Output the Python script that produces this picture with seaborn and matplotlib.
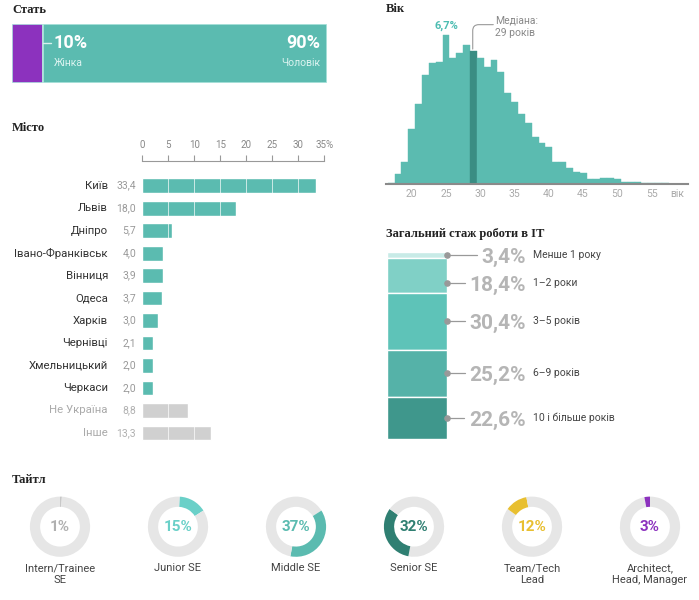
import numpy as np
import matplotlib
matplotlib.use('Agg')
import matplotlib.pyplot as plt
import seaborn as sns

# дані
gender_labels = ['Жінка', 'Чоловік']
gender_pct = [10, 90]

cities = ['Київ', 'Львів', 'Дніпро', 'Івано-Франківськ', 'Вінниця', 'Одеса',
          'Харків', 'Чернівці', 'Хмельницький', 'Черкаси', 'Не Україна', 'Інше']
city_pct = [33.4, 18.0, 5.7, 4.0, 3.9, 3.7, 3.0, 2.1, 2.0, 2.0, 8.8, 13.3]
city_other = ['Не Україна', 'Інше']

ages = list(range(17, 60))
age_pct = [0.05, 0.45, 1.0, 2.5, 3.6, 4.9, 5.45, 5.5, 6.7, 5.7,
           5.9, 6.25, 6.0, 5.7, 5.25, 5.6, 5.05, 4.1, 3.7, 3.15,
           2.75, 2.1, 1.85, 1.65, 0.98, 1.0, 0.72, 0.52, 0.5, 0.23,
           0.23, 0.29, 0.25, 0.22, 0.08, 0.08, 0.08, 0.04, 0.04, 0.04,
           0.03, 0.01, 0.01]
age_median = 29
age_ticks = [20, 25, 30, 35, 40, 45, 50, 55]

exp_labels = ['Менше 1 року', '1–2 роки', '3–5 років', '6–9 років', '10 і більше років']
exp_pct = [3.4, 18.4, 30.4, 25.2, 22.6]

titles = ['Intern/Trainee\nSE', 'Junior SE', 'Middle SE', 'Senior SE',
          'Team/Tech\nLead', 'Architect,\nHead, Manager']
title_pct = [1, 15, 37, 32, 12, 3]

# кольори
teal = '#5bbbb0'
purple = '#8c32be'
grey_bar = '#d0d0d0'
exp_colors = ['#c8ebe7', '#80d0c6', '#5ec3b8', '#55b2a8', '#3f978c']
title_colors = ['#c8c8c8', '#6ad0c8', '#5bbbb0', '#2f7f72', '#e8bf30', '#8c32be']
title_text_colors = ['#b0b0b0', '#6ad0c8', '#5bbbb0', '#2f7f72', '#e8bf30', '#8c32be']

sns.set_style('white')
plt.rcParams['font.family'] = ['Roboto', 'DejaVu Sans']

W, H = 699, 600
fig = plt.figure(figsize=(W / 100, H / 100), dpi=100)
fig.patch.set_facecolor('white')


def px_rect(x0, y0, x1, y1):
    return [x0 / W, 1 - y1 / H, (x1 - x0) / W, (y1 - y0) / H]


def section_title(x, y, text):
    fig.text(x / W, 1 - y / H, text, ha='left', va='center', fontsize=9,
             fontweight='bold', family=['Liberation Serif', 'DejaVu Serif'], color='#222')


# Стать
section_title(12, 10, 'Стать')
ax = fig.add_axes(px_rect(11.7, 24.3, 326.7, 83.3))
lefts = np.cumsum([0] + gender_pct[:-1])
ax.barh(0, gender_pct, left=lefts, height=1, color=[purple, teal],
        edgecolor='#b4e6e0', linewidth=1.2)
ax.set_xlim(0, 100)
ax.set_ylim(-0.5, 0.5)
ax.axis('off')
tr = ax.get_xaxis_transform()
ax.plot([gender_pct[0], gender_pct[0] + 2.4], [0.68, 0.68], transform=tr, color='#d8f1ee', lw=1)
ax.text(gender_pct[0] + 3.4, 0.68, f'{gender_pct[0]}%', transform=tr, color='white',
        fontsize=13, fontweight='bold', ha='left', va='center')
ax.text(gender_pct[0] + 3.4, 0.35, gender_labels[0], transform=tr, color='#dcf3f0',
        fontsize=7.5, ha='left', va='center')
ax.text(98, 0.68, f'{gender_pct[1]}%', transform=tr, color='white',
        fontsize=13, fontweight='bold', ha='right', va='center')
ax.text(98, 0.35, gender_labels[1], transform=tr, color='#dcf3f0',
        fontsize=7.5, ha='right', va='center')

# Місто
section_title(12, 128, 'Місто')
ax = fig.add_axes(px_rect(142.3, 160.7, 324.3, 444.2))
city_colors = [grey_bar if c in city_other else teal for c in cities]
sns.barplot(x=city_pct, y=cities, hue=cities, palette=city_colors, legend=False,
            orient='h', width=0.66, saturation=1, ax=ax)
ax.set_xlim(0, 35)
ax.set_ylim(11.5, -1.11)
ax.vlines(range(5, 35, 5), -0.5, 11.5, color='white', lw=0.6, alpha=0.8, zorder=3)
ax.xaxis.tick_top()
ax.set_xticks(range(0, 40, 5))
ax.set_xticklabels([str(v) for v in range(0, 35, 5)] + ['35%'])
ax.tick_params(axis='x', direction='out', length=4, width=0.8, color='#999',
               labelsize=7, labelcolor='#888', pad=3.5)
ax.tick_params(axis='y', left=False, labelleft=False)
ax.set_xlabel('')
ax.set_ylabel('')
for s in ['left', 'right', 'bottom']:
    ax.spines[s].set_visible(False)
ax.spines['top'].set_color('#999')
ax.spines['top'].set_linewidth(0.8)
for i, (c, v) in enumerate(zip(cities, city_pct)):
    other = c in city_other
    ax.text(-1.2, i, f'{v:.1f}'.replace('.', ','), ha='right', va='center',
            fontsize=7.5, color='#b0b0b0' if other else '#999')
    ax.text(-6.6, i, c, ha='right', va='center', fontsize=8.2,
            color='#aaa' if other else '#333')

# Вік
section_title(386, 9, 'Вік')
ax = fig.add_axes(px_rect(386, 20, 688, 184))
sns.histplot(x=ages, weights=age_pct, discrete=True, color=teal, alpha=1,
             edgecolor=teal, linewidth=0.3, ax=ax)
for p in ax.patches:
    if abs(p.get_x() + p.get_width() / 2 - age_median) < 0.01:
        p.set_facecolor('#3a8d83')
        p.set_edgecolor('#3a8d83')
ax.set_xlim(16.25, 60.3)
ax.set_ylim(0, 7.39)
ax.set_xticks(age_ticks + [58.7])
ax.set_xticklabels([str(t) for t in age_ticks] + ['вік'])
ax.tick_params(axis='x', length=0, labelsize=7.5, labelcolor='#aaa', pad=3.5)
ax.set_yticks([])
ax.set_xlabel('')
ax.set_ylabel('')
for s in ['left', 'right', 'top']:
    ax.spines[s].set_visible(False)
ax.spines['bottom'].set_color('#8a8a8a')
ax.spines['bottom'].set_linewidth(1.5)
peak_i = int(np.argmax(age_pct))
ax.text(ages[peak_i], age_pct[peak_i] + 0.18, f'{age_pct[peak_i]:.1f}%'.replace('.', ','),
        ha='center', va='bottom', color='#4dbdb2', fontsize=8, fontweight='bold')
ax.annotate('', xy=(age_median - 0.1, age_pct[ages.index(age_median)] + 0.08),
            xytext=(31.9, 7.18),
            arrowprops=dict(arrowstyle='-', color='#999', lw=0.8, shrinkA=0, shrinkB=0,
                            connectionstyle='angle,angleA=0,angleB=90,rad=6'),
            annotation_clip=False)
ax.text(32.2, 7.6, f'Медіана:\n{age_median} років', ha='left', va='top', fontsize=7.5,
        color='#888', linespacing=1.3, clip_on=False)

# Загальний стаж роботи в IT
section_title(386, 234, 'Загальний стаж роботи в IT')
ax = fig.add_axes(px_rect(387.3, 251.7, 690, 439.3))
ax.set_xlim(0, 302.7)
ax.set_ylim(100, 0)
ax.axis('off')
bar_w = 59.4
bottoms = np.cumsum([0] + exp_pct[:-1])
ax.bar(0, exp_pct, bottom=bottoms, width=bar_w, align='edge', color=exp_colors,
       edgecolor='white', linewidth=1)
mids = bottoms + np.array(exp_pct) / 2
label_y = []
for m in mids:
    label_y.append(m if not label_y else max(m, label_y[-1] + 15))
fig.canvas.draw()
renderer = fig.canvas.get_renderer()
for v, lab, y in zip(exp_pct, exp_labels, label_y):
    t = ax.text(138.7, y + 1.1, f'{v:.1f}%'.replace('.', ','), ha='right', va='center',
                fontsize=15, fontweight='bold', color='#b5b5b5')
    ax.text(145.7, y, lab, ha='left', va='center', fontsize=7.5, color='#444')
    bb = t.get_window_extent(renderer)
    x_end = ax.transData.inverted().transform((bb.x0 - 5, 0))[0]
    ax.plot([bar_w, x_end], [y, y], color='#999', lw=0.9)
    ax.scatter([bar_w], [y], s=14, color='#999', zorder=5, clip_on=False)

# Тайтл
section_title(12, 480, 'Тайтл')
cx0, step, cy, r = 60, 118, 526.7, 31
start = 0
for i, (lab, v) in enumerate(zip(titles, title_pct)):
    cx = cx0 + i * step
    ax = fig.add_axes(px_rect(cx - r, cy - r, cx + r, cy + r))
    ax.pie([start, v, 100 - start - v], colors=['#e6e6e6', title_colors[i], '#e6e6e6'],
           startangle=90, counterclock=False, radius=1,
           wedgeprops=dict(width=0.34, linewidth=0))
    ax.set_xlim(-1.03, 1.03)
    ax.set_ylim(-1.03, 1.03)
    ax.text(0, 0, f'{v}%', ha='center', va='center', fontsize=11, fontweight='bold',
            color=title_text_colors[i])
    fig.text(cx / W, 1 - 563 / H, lab, ha='center', va='top', fontsize=8,
             color='#444', linespacing=1.3)
    start += v

fig.savefig('out.png', dpi=100, facecolor='white')
